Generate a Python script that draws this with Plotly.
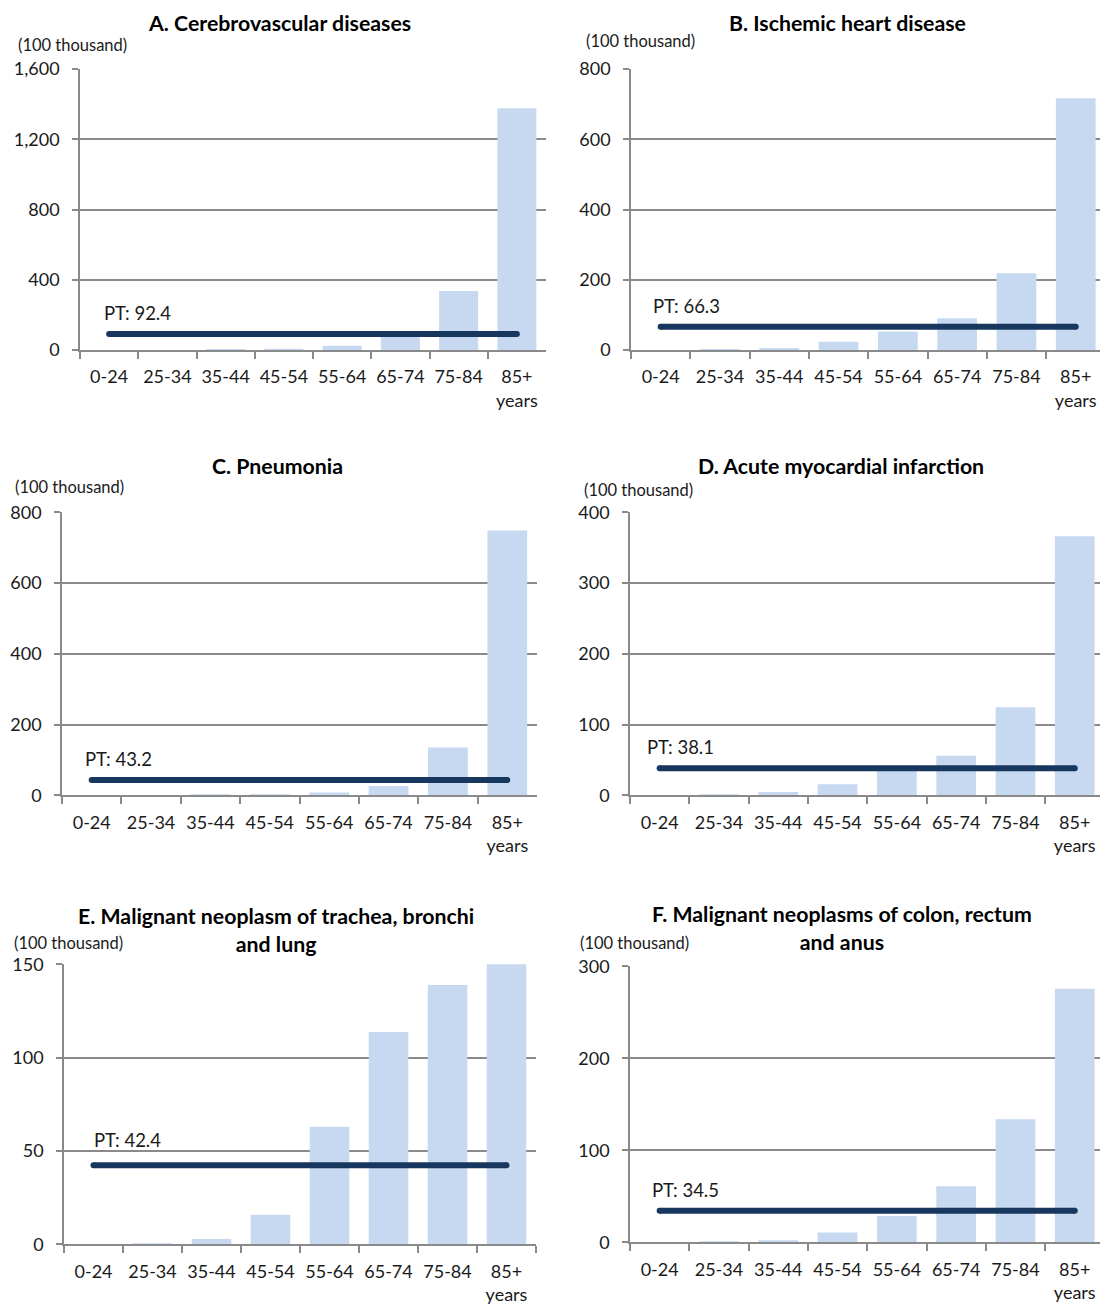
import plotly.graph_objects as go

W, H = 1100, 1305

# ---------------- data ----------------
age_groups = ["0-24", "25-34", "35-44", "45-54", "55-64", "65-74", "75-84", "85+<br>years"]

panel_titles = [
    "A. Cerebrovascular diseases",
    "B. Ischemic heart disease",
    "C. Pneumonia",
    "D. Acute myocardial infarction",
    "E. Malignant neoplasm of trachea, bronchi<br>and lung",
    "F. Malignant neoplasms of colon, rectum<br>and anus",
]
unit_label = "(100 thousand)"

cerebrovascular = [0.2, 0.4, 2, 7.6, 24.6, 95, 337, 1377]
ischemic_heart = [0.1, 0.6, 6, 24, 53, 91, 219, 717]
pneumonia = [0.2, 0.3, 1, 3, 7.6, 26.5, 135, 748]
acute_mi = [0.1, 0.8, 4.7, 15.6, 37, 56, 124.5, 366]
lung_cancer = [0.03, 0.15, 2.9, 15.9, 63, 113.8, 139, 165]
colorectal_cancer = [0.1, 0.5, 2.5, 10.9, 28.7, 61, 134, 275.7]

pt_values = [92.4, 66.3, 43.2, 38.1, 42.4, 34.5]
y_max = [1600, 800, 800, 400, 150, 300]
y_step = [400, 200, 200, 100, 50, 100]

series = [cerebrovascular, ischemic_heart, pneumonia, acute_mi, lung_cancer, colorectal_cancer]

# ---------------- layout geometry (target pixels) ----------------
def py(y):
    # compensate for the vertical offset/squeeze observed in the rendered page
    return (y - 12) / 0.982

# plot area: x0, x1, ytop, ybottom
geom = [
    (80, 546, 69, 350),
    (631, 1100, 69, 350),
    (62, 537, 512, 795),
    (630, 1100, 512, 795),
    (64, 536, 964, 1244),
    (630, 1100, 966, 1242),
]
cat_w_right = 59.3
title_pos = [(280, 23), (847, 23), (277, 466), (841, 466), (276, 930), (842, 928)]
unit_pos = [(72, 45), (640, 41), (70, 487), (638, 490), (68, 943), (634, 943)]
pt_shift = [(-7, 21), (-10, 21), (-9, 21), (-15, 21), (-2, 25), (-10, 21)]

BAR = "#C6D9F1"
LINE = "#17375E"
GRID = "#8a8a8a"
TXT = "#1a1a1a"
FONT = "Lato"

fig = go.Figure()
annotations = []

for i in range(6):
    x0, x1, yt, yb = geom[i]
    xa = "x" if i == 0 else f"x{i+1}"
    ya = "y" if i == 0 else f"y{i+1}"
    xkey = "xaxis" if i == 0 else f"xaxis{i+1}"
    ykey = "yaxis" if i == 0 else f"yaxis{i+1}"

    fig.add_trace(go.Bar(x=age_groups, y=series[i], marker_color=BAR,
                         marker_line_width=0, xaxis=xa, yaxis=ya,
                         showlegend=False, hoverinfo="skip"))
    fig.add_trace(go.Scatter(x=[age_groups[0], age_groups[-1]],
                             y=[pt_values[i], pt_values[i]],
                             mode="lines+markers",
                             line=dict(color=LINE, width=6),
                             marker=dict(color=LINE, size=6),
                             xaxis=xa, yaxis=ya, showlegend=False,
                             hoverinfo="skip"))

    if x1 >= 1100:
        xr = [-0.5, -0.5 + (x1 - x0) / cat_w_right]
    else:
        xr = [-0.5, 7.5]

    fig.update_layout(**{
        xkey: dict(domain=[x0 / W, x1 / W], anchor=ya, type="category",
                   range=xr, showline=True, linecolor=GRID, linewidth=1.5,
                   ticks="outside", tickson="boundaries", ticklen=7,
                   tickcolor=GRID, tickwidth=1.5, showgrid=False,
                   tickfont=dict(family=FONT, size=18, color=TXT),
                   ticklabelstandoff=10, fixedrange=True),
        ykey: dict(domain=[1 - py(yb) / H, 1 - py(yt) / H], anchor=xa,
                   range=[0, y_max[i]], dtick=y_step[i], tick0=0,
                   tickformat=",", showline=True, linecolor=GRID, linewidth=1.5,
                   ticks="outside", ticklen=6, tickcolor=GRID, tickwidth=1.5,
                   showgrid=True, gridcolor=GRID, gridwidth=1.5,
                   zeroline=False,
                   tickfont=dict(family=FONT, size=18, color=TXT),
                   ticklabelstandoff=9, fixedrange=True),
    })

    tx, ty = title_pos[i]
    annotations.append(dict(text=panel_titles[i], x=tx / W, y=1 - py(ty) / H,
                            xref="paper", yref="paper", xanchor="center",
                            yanchor="middle", showarrow=False,
                            font=dict(family=FONT, size=21.3, color="#000",
                                      weight="bold"),
                            align="center"))
    ux, uy = unit_pos[i]
    annotations.append(dict(text=unit_label, x=ux / W, y=1 - py(uy) / H,
                            xref="paper", yref="paper", xanchor="center",
                            yanchor="middle", showarrow=False,
                            font=dict(family=FONT, size=16.5, color=TXT)))
    sx, sy = pt_shift[i]
    annotations.append(dict(text=f"PT: {pt_values[i]}", x=age_groups[0],
                            y=pt_values[i], xref=xa, yref=ya,
                            xanchor="left", yanchor="middle",
                            xshift=sx, yshift=sy, showarrow=False,
                            font=dict(family=FONT, size=18.5, color=TXT)))

fig.update_layout(width=W, height=H, margin=dict(l=0, r=0, t=0, b=0),
                  paper_bgcolor="white", plot_bgcolor="white",
                  bargap=0.33, annotations=annotations,
                  font=dict(family=FONT, color=TXT))

fig.write_html("out.html", config={"displayModeBar": False})
